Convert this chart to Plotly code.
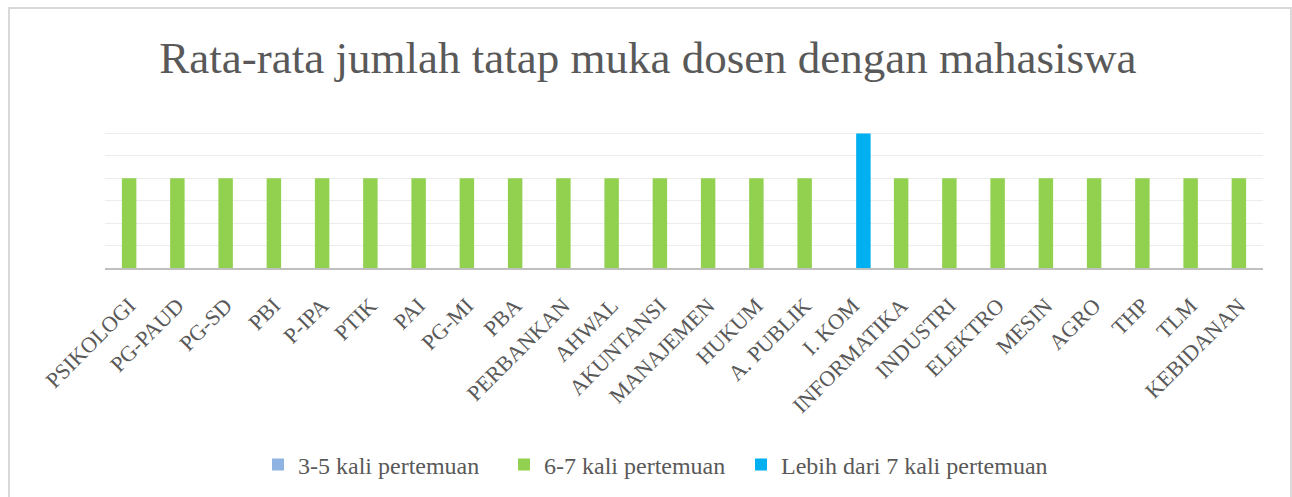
import plotly.graph_objects as go

categories = ["PSIKOLOGI", "PG-PAUD", "PG-SD", "PBI", "P-IPA", "PTIK", "PAI", "PG-MI",
              "PBA", "PERBANKAN", "AHWAL", "AKUNTANSI", "MANAJEMEN", "HUKUM", "A. PUBLIK",
              "I. KOM", "INFORMATIKA", "INDUSTRI", "ELEKTRO", "MESIN", "AGRO", "THP", "TLM",
              "KEBIDANAN"]
series_names = ["3-5 kali pertemuan", "6-7 kali pertemuan", "Lebih dari 7 kali pertemuan"]
s_3_5 = [0, 0, 0, 0, 0, 0, 0, 0, 0, 0, 0, 0, 0, 0, 0, 0, 0, 0, 0, 0, 0, 0, 0, 0]
s_6_7 = [4, 4, 4, 4, 4, 4, 4, 4, 4, 4, 4, 4, 4, 4, 4, 0, 4, 4, 4, 4, 4, 4, 4, 4]
s_gt7 = [0, 0, 0, 0, 0, 0, 0, 0, 0, 0, 0, 0, 0, 0, 0, 6, 0, 0, 0, 0, 0, 0, 0, 0]

colors = ["#8fb4e3", "#92d050", "#00b0f0"]
values = [s_3_5, s_6_7, s_gt7]
offsets = [-0.368, -0.15, 0.068]

W, H = 1292, 497
ml, mr, mt, mb = 105, 29, 111, 229
pw = W - ml - mr
ph = H - mt - mb


def px_x(px):
    return (px - ml) / pw


def px_y(py):
    return (H - mb - py) / ph


txt = "#595959"
serif = "Liberation Serif, Times New Roman, serif"

legend_ids = ["legend", "legend2", "legend3"]
legend_left_px = [258, 504, 741]

fig = go.Figure()
for name, vals, col, off, lid in zip(series_names, values, colors, offsets, legend_ids):
    fig.add_trace(go.Bar(
        x=categories, y=vals, name=name,
        marker=dict(color=col, line=dict(width=0)),
        width=0.30, offset=off, legend=lid,
    ))

legend_common = dict(orientation="h", yanchor="middle", y=px_y(465), xanchor="left",
                      font=dict(family=serif, size=24, color=txt),
                      bgcolor="rgba(0,0,0,0)", borderwidth=0, itemwidth=30)

fig.update_layout(
    width=W, height=H,
    margin=dict(l=ml, r=mr, t=mt, b=mb, autoexpand=False),
    paper_bgcolor="white", plot_bgcolor="white",
    barmode="overlay",
    font=dict(family=serif, color=txt),
    title=dict(text="Rata-rata jumlah tatap muka dosen dengan mahasiswa",
               font=dict(family=serif, size=45, color=txt),
               x=0.5015, xanchor="center", xref="container",
               y=1 - 57 / H, yanchor="middle", yref="container"),
    xaxis=dict(type="category", tickangle=-45, tickfont=dict(family=serif, size=22, color=txt),
               showline=True, linecolor="#bfbfbf", linewidth=2, ticks="",
               ticklabelstandoff=14, automargin=False,
               showgrid=False, range=[-0.5, len(categories) - 0.5]),
    yaxis=dict(range=[0, 7], dtick=1, showticklabels=False, showgrid=True,
               gridcolor="#ececec", gridwidth=1, zeroline=False, showline=False,
               automargin=False),
    legend=dict(legend_common, x=px_x(legend_left_px[0])),
    legend2=dict(legend_common, x=px_x(legend_left_px[1])),
    legend3=dict(legend_common, x=px_x(legend_left_px[2])),
    showlegend=True,
    shapes=[dict(type="rect", xref="paper", yref="paper",
                 x0=px_x(9), x1=px_x(1291), y0=px_y(505), y1=px_y(8),
                 line=dict(color="#d9d9d9", width=2), fillcolor="rgba(0,0,0,0)", layer="below")],
)

fig.write_html("out.html", config={"displayModeBar": False},
               post_script="document.body.style.margin='0';document.body.style.overflow='hidden';")
